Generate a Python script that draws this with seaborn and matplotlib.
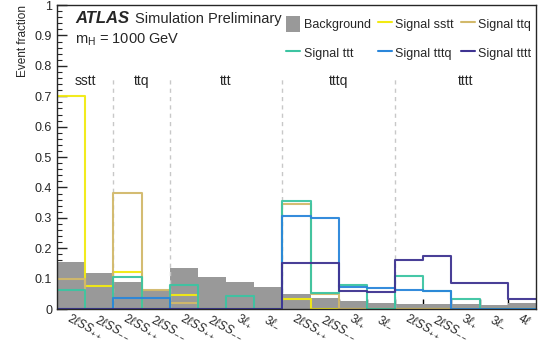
import numpy as np
import pandas as pd
import matplotlib
matplotlib.use("Agg")
import matplotlib.pyplot as plt
import seaborn as sns
from matplotlib.patches import Patch
from matplotlib.lines import Line2D
from matplotlib.ticker import MultipleLocator, FuncFormatter

# ---------------- data ----------------
bin_labels = [
    r"$2\ell SS_{++}$", r"$2\ell SS_{--}$",
    r"$2\ell SS_{++}$", r"$2\ell SS_{--}$",
    r"$2\ell SS_{++}$", r"$2\ell SS_{--}$", r"$3\ell_{+}$", r"$3\ell_{-}$",
    r"$2\ell SS_{++}$", r"$2\ell SS_{--}$", r"$3\ell_{+}$", r"$3\ell_{-}$",
    r"$2\ell SS_{++}$", r"$2\ell SS_{--}$", r"$3\ell_{+}$", r"$3\ell_{-}$", r"$4\ell$",
]
regions = ["sstt", "ttq", "ttt", "tttq", "tttt"]
region_nbins = [2, 2, 4, 4, 5]

background = [0.155, 0.118, 0.089, 0.063, 0.136, 0.105, 0.089, 0.072,
              0.049, 0.036, 0.025, 0.020, 0.018, 0.017, 0.016, 0.015, 0.021]
sig_sstt = [0.700, 0.077, 0.122, 0.0, 0.047, 0.0, 0.0, 0.0,
            0.034, 0.0, 0.0, 0.0, 0.0, 0.0, 0.0, 0.0, 0.0]
sig_ttq = [0.100, 0.0, 0.383, 0.063, 0.021, 0.0, 0.0, 0.0,
           0.347, 0.050, 0.0, 0.0, 0.0, 0.0, 0.0, 0.0, 0.0]
sig_ttt = [0.064, 0.0, 0.104, 0.0, 0.080, 0.0, 0.044, 0.0,
           0.357, 0.052, 0.079, 0.0, 0.109, 0.060, 0.034, 0.0, 0.0]
sig_tttq = [0.0, 0.0, 0.037, 0.037, 0.0, 0.0, 0.0, 0.0,
            0.305, 0.299, 0.072, 0.070, 0.063, 0.061, 0.0, 0.0, 0.0]
sig_tttt = [0.0, 0.0, 0.0, 0.0, 0.0, 0.0, 0.0, 0.0,
            0.152, 0.152, 0.059, 0.057, 0.161, 0.175, 0.086, 0.086, 0.034]

signal_names = ["Signal sstt", "Signal ttq", "Signal ttt", "Signal tttq", "Signal tttt"]
signal_values = [sig_sstt, sig_ttq, sig_ttt, sig_tttq, sig_tttt]
signal_colors = ["#f2ea12", "#d2b96a", "#3cc4a2", "#2a86da", "#3f3492"]
bkg_color = "#999999"

# ---------------- figure ----------------
sns.set_style("ticks")
plt.rcParams["font.family"] = ["Liberation Sans", "DejaVu Sans"]
plt.rcParams["mathtext.fontset"] = "custom"
plt.rcParams["mathtext.rm"] = "Liberation Sans"
plt.rcParams["mathtext.it"] = "Liberation Sans:italic"

fig = plt.figure(figsize=(5.4, 3.4), dpi=100)
ax = fig.add_axes([0.1056, 0.091, 0.887, 0.894])

nb = len(background)
edges = [float(e) for e in range(nb + 1)]
centers = [i + 0.5 for i in range(nb)]

df_bkg = pd.DataFrame({"center": centers, "value": background})
sns.histplot(data=df_bkg, x="center", weights="value", bins=edges, element="bars",
             fill=True, color=bkg_color, alpha=1.0, linewidth=0, ax=ax)

for name, vals, col in zip(signal_names, signal_values, signal_colors):
    df_s = pd.DataFrame({"center": centers, "value": vals})
    sns.histplot(data=df_s, x="center", weights="value", bins=edges, element="step",
                 fill=False, color=col, linewidth=1.5, alpha=0.95, ax=ax)

ax.set_xlim(0, nb)
ax.set_ylim(0, 1)

# region separators and labels
bounds = np.cumsum([0] + region_nbins)
for b in bounds[1:-1]:
    ax.plot([b, b], [0, 0.76], color="#c8c8c8", lw=1, ls=(0, (3, 3)), zorder=1)
for name, lo, hi in zip(regions, bounds[:-1], bounds[1:]):
    ax.text((lo + hi) / 2, 0.75, name, ha="center", va="center", fontsize=10)

# axes styling
ax.set_xticks(edges[1:-1])
ax.tick_params(axis="x", which="major", direction="in", length=7, width=1,
               labelbottom=False, color="black")
ax.set_xticks(centers, minor=True)
ax.set_xticklabels(bin_labels, minor=True, rotation=-28, ha="left", va="top",
                   rotation_mode="anchor", fontsize=8.5)
ax.tick_params(axis="x", which="minor", length=0, pad=2)

ax.yaxis.set_major_locator(MultipleLocator(0.1))
ax.yaxis.set_minor_locator(MultipleLocator(0.02))
ax.yaxis.set_major_formatter(FuncFormatter(lambda v, p: f"{v:g}"))
ax.tick_params(axis="y", which="major", direction="in", length=7, width=1, labelsize=9)
ax.tick_params(axis="y", which="minor", direction="in", length=3.5, width=0.8)
ax.set_ylabel("Event fraction", loc="top", fontsize=8.5)
ax.set_xlabel("")
for s in ax.spines.values():
    s.set_linewidth(1)

# ATLAS label
ax.text(0.038, 0.955, "ATLAS", transform=ax.transAxes, fontsize=12,
        fontweight="bold", style="italic", va="center", ha="left")
ax.text(0.163, 0.955, "Simulation Preliminary", transform=ax.transAxes,
        fontsize=10.5, va="center", ha="left")
ax.text(0.038, 0.885, r"m$_{\mathregular{H}}$ = 1000 GeV", transform=ax.transAxes,
        fontsize=10.5, va="center", ha="left")

# legend (row-major order via column-wise fill)
h_bkg = Patch(facecolor=bkg_color, edgecolor="none", label="Background")
h_sig = [Line2D([0], [0], color=c, lw=1.5, label=n)
         for n, c in zip(signal_names, signal_colors)]
order = [h_bkg, h_sig[2], h_sig[0], h_sig[3], h_sig[1], h_sig[4]]
ax.legend(handles=order, ncol=3, loc="upper right", bbox_to_anchor=(1.006, 0.99),
          frameon=False, fontsize=9, handlelength=1.1, handleheight=1.6,
          handletextpad=0.3, columnspacing=0.55, labelspacing=1.05,
          borderaxespad=0.2)

fig.savefig("out.png", dpi=100)
